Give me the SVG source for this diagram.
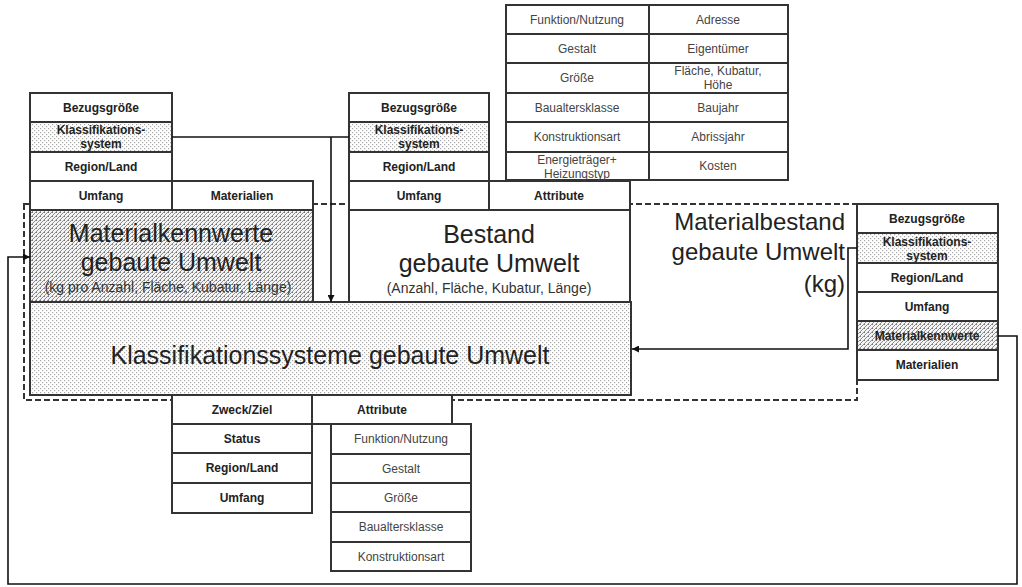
<svg xmlns="http://www.w3.org/2000/svg" width="1022" height="587" viewBox="0 0 1022 587">
<defs>
<pattern id="dots" width="4" height="4" patternUnits="userSpaceOnUse">
<rect width="4" height="4" fill="#fff"/>
<rect x="0" y="0" width="1.2" height="1.2" fill="#a8a8a8"/>
<rect x="2" y="2" width="1.2" height="1.2" fill="#a8a8a8"/>
</pattern>
<pattern id="hatch" width="4" height="4" patternUnits="userSpaceOnUse">
<rect width="4" height="4" fill="#f4f4f4"/>
<path d="M0 4 L4 0 M-1 1 L1 -1 M3 5 L5 3" stroke="#8e8e8e" stroke-width="1"/>
<rect x="0" y="0" width="1" height="1" fill="#777"/>
</pattern>
<marker id="arr" viewBox="0 0 10 10" refX="10" refY="5" markerWidth="7" markerHeight="7" markerUnits="userSpaceOnUse" orient="auto">
<path d="M0 0 L10 5 L0 10 z" fill="#111"/>
</marker>
<style>
.c{fill:#fff;stroke:#333;stroke-width:2}
.d{fill:url(#dots);stroke:#333;stroke-width:2}
.h{fill:url(#hatch);stroke:#333;stroke-width:2}
.b{font-family:"Liberation Sans",Arial,sans-serif;font-size:12px;font-weight:bold;fill:#222;text-anchor:middle}
.g{font-family:"Liberation Sans",Arial,sans-serif;font-size:12px;fill:#444;text-anchor:middle}
.big{font-family:"Liberation Sans",Arial,sans-serif;font-size:25px;fill:#222;text-anchor:middle}
.sm{font-family:"Liberation Sans",Arial,sans-serif;font-size:14px;fill:#333;text-anchor:middle}
.conn{fill:none;stroke:#111;stroke-width:1.6}
.dash{fill:none;stroke:#333;stroke-width:2;stroke-dasharray:6 3}
</style>
</defs>
<g id="group-boundary">
<rect class="dash" x="24" y="204" width="833" height="196"/>
</g>
<g id="materialkennwerte">
<rect class="h" x="30" y="210" width="283" height="92"/>
<text class="big" x="171" y="242">Materialkennwerte</text>
<text class="big" x="171" y="271">gebaute Umwelt</text>
<text class="sm" x="168" y="292">(kg pro Anzahl, Fläche, Kubatur, Länge)</text>
</g>
<g id="bestand">
<rect class="c" x="349" y="210" width="281" height="92"/>
<text class="big" x="489" y="243">Bestand</text>
<text class="big" x="489" y="272">gebaute Umwelt</text>
<text class="sm" x="489" y="293">(Anzahl, Fläche, Kubatur, Länge)</text>
</g>
<g id="klassifikationssysteme">
<rect class="d" x="30" y="302" width="601" height="93"/>
<text class="big" x="330" y="364">Klassifikationssysteme gebaute Umwelt</text>
</g>
<g id="materialbestand">
<text class="big" style="text-anchor:end;font-size:24px" x="845" y="230">Materialbestand</text>
<text class="big" style="text-anchor:end;font-size:24px" x="845" y="260">gebaute Umwelt</text>
<text class="big" style="text-anchor:end;font-size:24px" x="845" y="292">(kg)</text>
</g>
<g id="table-materialkennwerte">
<rect class="c" x="30" y="93" width="142" height="29"/>
<text class="b" x="101" y="112">Bezugsgröße</text>
<rect class="d" x="30" y="122" width="142" height="30"/>
<text class="b" x="101" y="134">Klassifikations-</text>
<text class="b" x="101" y="148">system</text>
<rect class="c" x="30" y="152" width="142" height="29"/>
<text class="b" x="101" y="171">Region/Land</text>
<rect class="c" x="30" y="181" width="142" height="29"/>
<text class="b" x="101" y="200">Umfang</text>
<rect class="c" x="172" y="181" width="141" height="29"/>
<text class="b" x="242" y="200">Materialien</text>
</g>
<g id="table-bestand">
<rect class="c" x="349" y="93" width="140" height="29"/>
<text class="b" x="419" y="112">Bezugsgröße</text>
<rect class="d" x="349" y="122" width="140" height="30"/>
<text class="b" x="419" y="134">Klassifikations-</text>
<text class="b" x="419" y="148">system</text>
<rect class="c" x="349" y="152" width="140" height="29"/>
<text class="b" x="419" y="171">Region/Land</text>
<rect class="c" x="349" y="181" width="140" height="29"/>
<text class="b" x="419" y="200">Umfang</text>
<rect class="c" x="489" y="181" width="141" height="29"/>
<text class="b" x="559" y="200">Attribute</text>
</g>
<g id="table-bestand-attribute">
<rect class="c" x="506" y="5" width="143" height="29"/>
<text class="g" x="577" y="24">Funktion/Nutzung</text>
<rect class="c" x="649" y="5" width="139" height="29"/>
<text class="g" x="718" y="24">Adresse</text>
<rect class="c" x="506" y="34" width="143" height="29"/>
<text class="g" x="577" y="53">Gestalt</text>
<rect class="c" x="649" y="34" width="139" height="29"/>
<text class="g" x="718" y="53">Eigentümer</text>
<rect class="c" x="506" y="63" width="143" height="30"/>
<text class="g" x="577" y="82">Größe</text>
<rect class="c" x="649" y="63" width="139" height="30"/>
<text class="g" x="718" y="75">Fläche, Kubatur,</text>
<text class="g" x="718" y="89">Höhe</text>
<rect class="c" x="506" y="93" width="143" height="29"/>
<text class="g" x="577" y="112">Baualtersklasse</text>
<rect class="c" x="649" y="93" width="139" height="29"/>
<text class="g" x="718" y="112">Baujahr</text>
<rect class="c" x="506" y="122" width="143" height="30"/>
<text class="g" x="577" y="141">Konstruktionsart</text>
<rect class="c" x="649" y="122" width="139" height="30"/>
<text class="g" x="718" y="141">Abrissjahr</text>
<rect class="c" x="506" y="152" width="143" height="28"/>
<text class="g" x="577" y="164">Energieträger+</text>
<text class="g" x="577" y="178">Heizungstyp</text>
<rect class="c" x="649" y="152" width="139" height="28"/>
<text class="g" x="718" y="170">Kosten</text>
</g>
<g id="table-materialbestand">
<rect class="c" x="857" y="204" width="141" height="29"/>
<text class="b" x="927" y="223">Bezugsgröße</text>
<rect class="d" x="857" y="233" width="141" height="30"/>
<text class="b" x="927" y="246">Klassifikations-</text>
<text class="b" x="927" y="260">system</text>
<rect class="c" x="857" y="263" width="141" height="29"/>
<text class="b" x="927" y="282">Region/Land</text>
<rect class="c" x="857" y="292" width="141" height="29"/>
<text class="b" x="927" y="311">Umfang</text>
<rect class="h" x="857" y="321" width="141" height="29"/>
<text class="b" x="927" y="340">Materialkennwerte</text>
<rect class="c" x="857" y="350" width="141" height="30"/>
<text class="b" x="927" y="369">Materialien</text>
</g>
<g id="table-klassifikation">
<rect class="c" x="172" y="395" width="140" height="29"/>
<text class="b" x="242" y="414">Zweck/Ziel</text>
<rect class="c" x="312" y="395" width="140" height="29"/>
<text class="b" x="382" y="414">Attribute</text>
<rect class="c" x="172" y="424" width="140" height="29"/>
<text class="b" x="242" y="443">Status</text>
<rect class="c" x="172" y="453" width="140" height="30"/>
<text class="b" x="242" y="472">Region/Land</text>
<rect class="c" x="172" y="483" width="140" height="30"/>
<text class="b" x="242" y="502">Umfang</text>
</g>
<g id="table-klassifikation-attribute">
<rect class="c" x="331" y="424" width="140" height="30"/>
<text class="g" x="401" y="443">Funktion/Nutzung</text>
<rect class="c" x="331" y="454" width="140" height="29"/>
<text class="g" x="401" y="473">Gestalt</text>
<rect class="c" x="331" y="483" width="140" height="29"/>
<text class="g" x="401" y="502">Größe</text>
<rect class="c" x="331" y="512" width="140" height="30"/>
<text class="g" x="401" y="531">Baualtersklasse</text>
<rect class="c" x="331" y="542" width="140" height="29"/>
<text class="g" x="401" y="561">Konstruktionsart</text>
</g>
<g id="connectors">
<path class="conn" d="M172 137 H349"/>
<path class="conn" d="M331 137 V302" marker-end="url(#arr)"/>
<path class="conn" d="M857 248 H848 V349 H632" marker-end="url(#arr)"/>
<path class="conn" d="M998 336 H1017 V584 H8 V257 H30" marker-end="url(#arr)"/>
</g>
</svg>
